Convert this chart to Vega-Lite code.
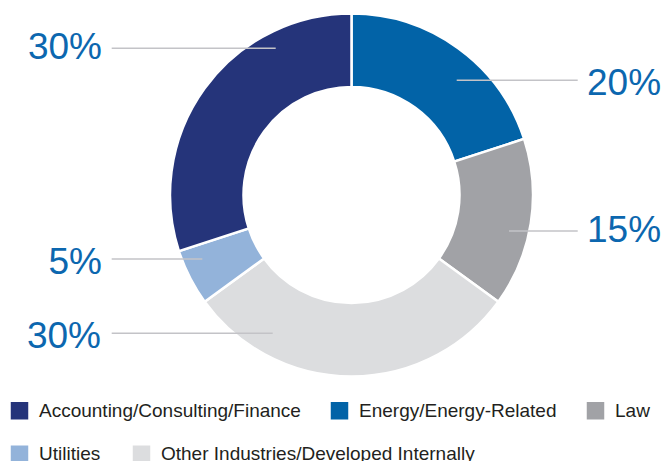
{
  "$schema": "https://vega.github.io/schema/vega-lite/v6.json",
  "width": 663,
  "height": 461,
  "padding": 0,
  "autosize": {"type": "none"},
  "background": "white",
  "config": {
    "view": {"stroke": null},
    "legend": {
      "title": null,
      "orient": "none",
      "direction": "horizontal",
      "padding": 0,
      "symbolType": "square",
      "symbolSize": 306,
      "symbolStrokeWidth": 0,
      "symbolOpacity": 1,
      "labelFont": "Liberation Sans",
      "labelFontSize": 19,
      "labelColor": "#231f20",
      "labelOffset": 10,
      "labelLimit": 400
    }
  },
  "data": {
    "values": [
      {"category": "Energy/Energy-Related", "share": 20, "rank": 1, "label": "20%", "side": "right", "tx": 235.5, "ty": 100, "lx1": 105.2, "lx2": 226.2, "ly": 114.7},
      {"category": "Law", "share": 15, "rank": 2, "label": "15%", "side": "right", "tx": 235.5, "ty": -46.7, "lx1": 157.5, "lx2": 226.2, "ly": -36},
      {"category": "Other Industries/Developed Internally", "share": 30, "rank": 3, "label": "30%", "side": "left", "tx": -250.5, "ty": -153.3, "lx1": -239.8, "lx2": -78.8, "ly": -138.3},
      {"category": "Utilities", "share": 5, "rank": 4, "label": "5%", "side": "left", "tx": -249.5, "ty": -79.3, "lx1": -239.8, "lx2": -149.2, "ly": -64},
      {"category": "Accounting/Consulting/Finance", "share": 30, "rank": 5, "label": "30%", "side": "left", "tx": -249.5, "ty": 135.7, "lx1": -239.8, "lx2": -75.8, "ly": 146.7}
    ]
  },
  "layer": [
    {
      "mark": {"type": "arc", "outerRadius": 181.5, "innerRadius": 108, "stroke": "white", "strokeWidth": 2.5},
      "encoding": {
        "x": {"datum": 0, "type": "quantitative", "scale": {"domain": [-351.5, 311.5], "nice": false, "zero": false}, "axis": null},
        "y": {"datum": 0, "type": "quantitative", "scale": {"domain": [-266, 195], "nice": false, "zero": false}, "axis": null},
        "theta": {"field": "share", "type": "quantitative", "stack": true},
        "order": {"field": "rank", "type": "quantitative"},
        "color": {
          "field": "category",
          "type": "nominal",
          "scale": {
            "domain": ["Accounting/Consulting/Finance", "Energy/Energy-Related", "Law", "Utilities", "Other Industries/Developed Internally"],
            "range": ["#25347a", "#0263a7", "#a1a2a6", "#93b3da", "#dcdddf"]
          },
          "legend": {
            "values": ["Accounting/Consulting/Finance", "Energy/Energy-Related", "Law"],
            "legendX": 10,
            "legendY": 401,
            "columnPadding": 29
          }
        }
      }
    },
    {
      "mark": {"type": "arc", "outerRadius": 181.5, "innerRadius": 108, "stroke": "white", "strokeWidth": 2.5},
      "encoding": {
        "x": {"datum": 0, "type": "quantitative"},
        "y": {"datum": 0, "type": "quantitative"},
        "theta": {"field": "share", "type": "quantitative", "stack": true},
        "order": {"field": "rank", "type": "quantitative"},
        "fill": {
          "field": "category",
          "type": "nominal",
          "scale": {
            "domain": ["Utilities", "Other Industries/Developed Internally", "Accounting/Consulting/Finance", "Energy/Energy-Related", "Law"],
            "range": ["#93b3da", "#dcdddf", "#25347a", "#0263a7", "#a1a2a6"]
          },
          "legend": {
            "values": ["Utilities", "Other Industries/Developed Internally"],
            "legendX": 10,
            "legendY": 444.5,
            "columnPadding": 31
          }
        }
      }
    },
    {
      "mark": {"type": "rule", "color": "#c3c3c7", "strokeWidth": 1.5},
      "encoding": {
        "x": {"field": "lx1", "type": "quantitative"},
        "x2": {"field": "lx2"},
        "y": {"field": "ly", "type": "quantitative"}
      }
    },
    {
      "transform": [{"filter": "datum.side === 'left'"}],
      "mark": {"type": "text", "align": "right", "baseline": "alphabetic", "font": "Liberation Sans", "fontSize": 37, "color": "#0c67af"},
      "encoding": {
        "x": {"field": "tx", "type": "quantitative"},
        "y": {"field": "ty", "type": "quantitative"},
        "text": {"field": "label"}
      }
    },
    {
      "transform": [{"filter": "datum.side === 'right'"}],
      "mark": {"type": "text", "align": "left", "baseline": "alphabetic", "font": "Liberation Sans", "fontSize": 37, "color": "#0c67af"},
      "encoding": {
        "x": {"field": "tx", "type": "quantitative"},
        "y": {"field": "ty", "type": "quantitative"},
        "text": {"field": "label"}
      }
    }
  ]
}
